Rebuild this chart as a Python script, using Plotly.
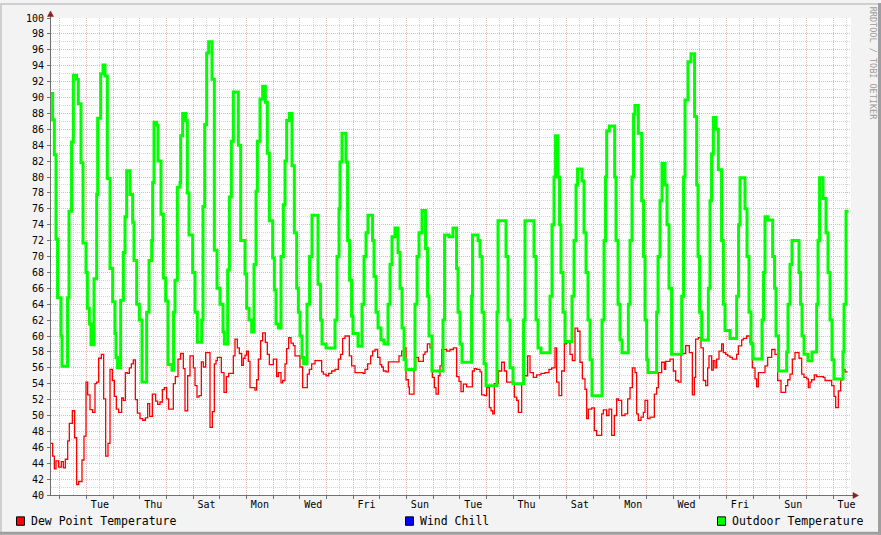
import plotly.graph_objects as go

# ---------------- data (hours since graph start = Sun 16:00, values in °F) ----------------
outdoor_t = [0, 1.5, 3.0, 4.5, 5.9, 9.0, 9.9, 14.9, 16.2, 18.5, 20.1, 23.0, 24.6, 27.0, 28.8, 31.5, 32.7,
             34.5, 36.0, 38.7, 41.1, 42.0, 44.7, 46.8, 48.6, 50.7, 53.1, 55.5, 57.6, 58.5, 59.9, 62.7,
             65.1, 66.6, 68.1, 71.1, 73.5, 74.7, 77.1, 79.5, 81.9, 86.1, 88.2, 90.6, 91.5, 92.7, 95.1,
             96.3, 99.0, 101.1, 103.2, 105.3, 108.9, 110.3, 111.6, 113.7, 116.1, 116.7, 118.5, 121.2,
             122.7, 124.2, 127.5, 129.6, 131.7, 135.6, 136.8, 138.3, 140.1, 141.9, 144.9, 147.0, 149.4,
             152.1, 154.8, 156.0, 159.0, 160.5, 162.3, 164.1, 168.6, 170.7, 174.6, 176.1, 178.2, 180.6,
             182.7, 184.5, 185.7, 188.1, 190.5, 192.9, 194.7, 196.5, 199.5, 201.0, 202.5, 204.6, 207.0,
             209.1, 210.6, 212.1, 214.5, 216.9, 219.0, 221.1, 222.6, 224.1, 225.9, 227.3, 230.4, 232.7,
             234.9, 240.3, 242.6, 243.9, 247.5, 255.6, 257.4, 259.2, 260.1, 261.9, 265.5, 266.9, 268.7,
             270.5, 271.8, 276.3, 279.9, 281.7, 283.5, 285.3, 289.4, 290.7, 292.5, 294.3, 297.0, 299.7,
             303.3, 305.1, 306.9, 309.6, 312.3, 314.1, 315.9, 317.7, 319.5, 327.6, 329.4, 331.2, 333.9,
             337.1, 338.9, 340.2, 342.9, 352.8, 354.2, 358.2, 361.8, 365.0, 366.3, 368.1, 369.9, 378.5,
             379.4, 384.3, 386.1, 387.9, 389.7, 391.5, 401.4, 402.3, 409.5, 411.3, 413.1, 415.8, 425.3,
             426.6, 434.7, 436.5, 438.3, 441.0, 449.1, 450.9, 452.7, 454.1, 456.3, 457.7, 459.0, 460.8,
             462.6, 468.9, 470.7, 472.5, 473.9, 477.9, 479.7, 481.5, 483.3, 485.1, 486.9, 495.9, 497.7,
             499.1, 500.1, 502.5, 507.3, 508.5, 510.3, 512.1, 513.9, 519.6, 521.1, 522.9, 524.3, 525.6,
             528.6, 531.6, 533.3, 534.6, 536.1, 537.3, 545.1, 546.3, 548.1, 549.9, 552.6, 554.4, 556.2,
             558.5, 567.6, 569.3, 570.6, 573.3, 576.0, 579.2, 581.1, 582.3, 583.7, 585.6, 591.6, 593.1,
             594.5, 596.1, 598.5, 600.6, 603.5, 605.1, 606.6, 611.1, 617.1, 618.8, 620.1, 624.6, 626.4,
             628.2, 630.0, 631.8, 639.9, 641.3, 642.6, 645.3, 649.5, 651.2, 652.5, 654.8, 662.1, 663.3,
             665.1, 666.9, 673.2, 674.6, 675.9, 677.7, 681.3, 684.9, 689.1, 690.3, 691.7, 694.8, 697.5,
             699.3, 701.1, 702.9, 704.7, 712.8, 713.7, 715.5, 717.8]
outdoor_v = [90.5, 87.2, 82.8, 72.2, 64.8, 60.0, 56.2, 64.8, 75.7, 84.4, 92.8, 92.3, 89.2, 81.8, 71.7, 68.0, 63.5,
             61.5, 58.9, 67.2, 77.8, 87.4, 93.0, 94.1, 92.7, 79.8, 68.5, 64.3, 60.3, 57.3, 56.0, 64.5,
             70.5, 75.0, 80.8, 77.8, 74.3, 69.5, 64.0, 62.0, 54.2, 63.0, 69.5, 72.0, 79.3, 86.9, 86.5,
             82.0, 75.3, 67.3, 64.4, 56.4, 55.7, 63.0, 67.0, 78.7, 79.3, 85.2, 88.0, 87.1,
             78.0, 72.7, 68.0, 63.0, 59.2, 62.0, 76.3, 86.6, 95.6, 97.0, 92.3, 70.8, 66.0,
             64.0, 60.5, 59.0, 68.3, 77.5, 84.5, 90.7, 84.0, 72.0, 67.8, 63.5, 62.0, 60.5,
             69.0, 78.2, 84.5, 89.8, 91.4, 89.4, 83.0, 74.5, 69.8, 65.8, 61.5, 61.0, 70.0,
             76.5, 82.0, 87.1, 88.0, 81.4, 73.0, 66.0, 63.0, 60.0, 57.3, 56.5, 64.0, 70.0,
             75.2, 66.5, 62.0, 59.0, 58.5, 62.0, 70.0, 76.0, 81.9, 85.5, 81.9, 72.0, 67.0,
             62.5, 60.3, 58.7, 64.0, 70.0, 73.0, 75.2, 72.0, 67.5, 63.0, 61.0, 59.5, 59.0,
             64.0, 69.0, 72.5, 73.6, 70.5, 66.0, 61.0, 57.0, 55.8, 64.0, 70.0, 73.0, 75.8,
             71.0, 65.0, 60.0, 55.6, 62.0, 72.7, 72.5, 73.6, 68.5, 63.0, 59.0, 56.7, 65.0,
             72.7, 72.0, 70.0, 63.0, 56.5, 53.75, 63.0, 74.5, 70.0, 62.0, 56.0, 54.0, 62.0,
             74.5, 70.0, 62.0, 58.5, 57.9, 65.0, 74.0, 80.0, 85.2, 80.0, 74.0, 68.0, 63.0,
             59.3, 65.0, 72.0, 79.0, 81.0, 79.5, 73.0, 68.0, 62.0, 57.0, 52.5, 62.0, 72.0,
             80.0, 85.8, 86.4, 80.0, 72.0, 64.0, 59.5, 57.9, 64.0, 72.0, 80.0, 87.9, 89.0,
             85.5, 77.0, 70.0, 62.0, 57.0, 55.4, 63.0, 70.0, 77.0, 81.7, 79.0, 74.0, 66.0,
             57.7, 65.0, 80.0, 89.7, 94.5, 95.5, 87.6, 79.0, 70.0, 63.0, 59.5, 66.0, 77.0,
             82.9, 87.5, 86.0, 80.9, 72.0, 64.0, 60.7, 59.7, 65.0, 74.0, 79.9, 76.0, 70.0,
             63.0, 59.0, 57.1, 62.0, 68.0, 75.0, 74.6, 70.0, 66.0, 60.0, 55.6, 58.0, 64.0,
             69.0, 72.0, 68.0, 64.0, 60.0, 57.7, 56.9, 58.0, 64.0, 72.0, 79.9, 77.3, 73.0,
             68.0, 62.0, 57.0, 54.6, 58.0, 64.0, 75.7, 75.7]

dew_t = [0, 1.5, 3.0, 4.5, 6.9, 9.3, 11.1, 12.9, 15.0, 16.5, 19.2, 21.3, 23.1, 24.9, 27.9, 29.7, 31.5, 33.0,
         35.1, 37.5, 39.6, 41.1, 42.9, 45.3, 47.4, 49.2, 51.3, 53.1, 55.2, 57.0, 58.8, 60.9, 63.6, 65.1,
         66.9, 68.7, 70.5, 72.3, 74.1, 75.9, 77.7, 80.1, 82.5, 84.9, 87.0, 88.8, 91.2, 94.2, 96.0, 98.1,
         100.2, 102.0, 104.1, 105.9, 110.1, 111.9, 114.3, 116.7, 119.1, 120.6, 123.0, 125.1, 128.1,
         129.6, 131.4, 133.2, 135.3, 137.1, 139.2, 143.1, 145.2, 147.0, 148.5, 149.7, 153.3, 155.7,
         157.8, 159.9, 164.1, 165.6, 167.7, 169.5, 171.6, 173.1, 174.6, 176.1, 177.6, 179.1, 183.6,
         185.1, 186.6, 188.7, 190.5, 192.9, 194.7, 196.5, 200.1, 203.1, 204.6, 207.0, 208.5, 210.6,
         212.1, 213.9, 216.0, 218.1, 219.6, 224.1, 226.5, 230.7, 232.5, 234.6, 237.6, 243.6, 245.1,
         247.5, 249.9, 252.6, 255.6, 258.6, 260.7, 262.5, 264.6, 268.5, 270.6, 273.6, 280.8, 282.6,
         285.0, 287.7, 289.5, 291.6, 294.0, 296.1, 297.6, 299.1, 301.5, 303.6, 313.2, 315.6, 318.0,
         319.5, 321.6, 322.5, 326.7, 328.2, 330.6, 335.1, 336.6, 338.7, 341.1, 343.2, 345.0, 346.5,
         348.6, 350.1, 351.6, 356.1, 359.1, 362.1, 365.1, 367.2, 369.0, 371.1, 374.1, 379.2, 381.0,
         383.1, 386.1, 387.6, 390.0, 392.1, 394.5, 396.0, 397.5, 399.0, 402.6, 405.6, 408.0, 410.1,
         417.0, 419.1, 420.6, 423.6, 425.1, 429.0, 431.1, 434.1, 437.1, 441.0, 444.6, 448.2, 450.6,
         453.6, 455.1, 457.2, 459.6, 462.0, 464.1, 467.1, 469.2, 471.6, 474.0, 476.1, 478.2, 480.6,
         482.1, 483.6, 486.6, 489.0, 491.1, 495.6, 497.1, 500.1, 502.2, 504.6, 507.0, 509.1, 510.6,
         513.6, 516.6, 519.0, 521.1, 523.2, 525.6, 527.1, 528.6, 531.0, 533.1, 534.6, 537.0, 539.1,
         543.0, 545.1, 546.6, 549.6, 552.0, 553.2, 557.1, 560.1, 562.2, 564.6, 567.0, 571.2, 574.5,
         577.2, 579.0, 580.2, 582.6, 585.0, 587.1, 589.2, 591.0, 592.2, 594.6, 596.1, 597.6, 599.1,
         601.2, 603.6, 605.1, 607.2, 609.0, 611.1, 613.2, 617.1, 618.6, 621.6, 623.1, 626.1, 629.1,
         631.2, 633.6, 635.1, 636.6, 642.6, 645.0, 648.6, 651.6, 654.0, 657.0, 661.2, 663.0, 665.1,
         667.2, 669.6, 673.2, 675.6, 677.7, 680.1, 681.6, 683.1, 684.6, 687.0, 689.1, 695.1, 696.6,
         702.6, 704.7, 706.2, 708.6, 710.7, 712.5, 714.6, 717.0]
dew_v = [46.5, 44.9, 43.3, 44.3, 43.5, 44.2, 43.4, 44.5, 46.8, 49.0, 50.6, 47.2, 41.3, 41.7, 44.4, 47.4, 54.2, 52.6,
         50.75, 50.4, 54.0, 54.2, 57.2, 57.7, 52.1, 44.9, 46.5, 55.8, 54.4, 52.4, 50.8, 50.4, 52.2, 51.9,
         55.4, 55.3, 56.0, 56.5, 57.0, 52.0, 50.3, 49.6, 49.4, 49.7, 51.5, 49.9, 52.7, 51.8, 51.4, 51.7,
         53.25, 53.5, 52.1, 50.8, 54.0, 54.9, 57.1, 57.8, 55.9, 50.6, 55.0, 57.5, 56.0,
         53.75, 52.3, 52.5, 56.75, 56.1, 57.9, 48.5, 50.5, 56.5, 56.9, 57.3, 55.4, 52.9,
         54.9, 55.3, 57.5, 59.6, 58.5, 57.8, 56.3, 57.2, 57.6, 58.1, 56.8, 53.5, 53.2,
         54.5, 57.1, 59.4, 60.4, 59.2, 57.7, 56.4, 57.1, 54.9, 55.4, 54.1, 54.4, 56.5,
         58.4, 59.8, 59.1, 58.8, 57.5, 56.1, 53.5, 55.2, 55.8, 56.5, 56.9, 55.5, 55.2,
         55.0, 55.3, 55.6, 55.8, 57.1, 57.7, 59.7, 60.0, 57.5, 56.25, 55.4, 55.3, 55.8,
         56.5, 57.5, 58.1, 58.3, 57.3, 56.4, 56.1, 55.6, 55.5, 56.75, 57.5, 58.1, 58.5,
         54.5, 53.6, 52.7, 55.8, 57.3, 56.8, 57.7, 58.0, 59.0, 58.5, 54.8, 53.5, 52.7,
         55.0, 56.25, 58.3, 58.1, 58.3, 58.5, 54.9, 54.3, 53.0, 53.95, 53.6, 55.6, 55.9,
         55.8, 55.5, 52.6, 52.5, 53.5, 51.0, 50.6, 50.2, 54.0, 55.6, 56.7, 55.6, 54.2,
         52.3, 51.9, 50.4, 53.95, 55.0, 57.5, 55.4, 54.8, 55.1, 55.3, 55.4, 55.8, 56.0,
         58.5, 54.2, 52.5, 55.6, 59.0, 59.2, 57.7, 56.9, 61.0, 60.6, 56.7, 54.6, 53.3,
         49.6, 50.8, 50.96, 48.1, 47.5, 50.2, 50.7, 50.0, 50.8, 47.5, 50.0, 52.1, 51.9,
         50.0, 50.2, 52.1, 53.5, 56.0, 55.4, 50.2, 49.4, 49.8, 50.4, 51.9, 49.6, 49.8,
         52.7, 53.5, 55.4, 56.7, 55.8, 56.8, 57.1, 55.6, 54.4, 54.2, 57.8, 58.8, 57.9,
         52.6, 54.8, 59.6, 59.8, 58.5, 54.4, 53.75, 56.0, 57.5, 55.7, 56.9, 56.0, 57.1,
         58.1, 59.0, 57.9, 57.7, 57.5, 57.3, 57.1, 57.7, 58.75, 59.5, 59.7, 60.0, 59.2,
         56.0, 54.6, 53.6, 55.4, 56.25, 57.3, 58.3, 57.7, 54.4, 52.9, 53.75, 54.5, 55.2,
         57.1, 57.9, 57.2, 55.2, 54.8, 54.6, 53.5, 54.2, 54.5, 55.1, 54.9, 54.8, 54.4,
         53.75, 52.4, 51.0, 53.1, 54.5, 55.8, 55.5, 55.5]

y_tick_values = list(range(40, 101, 2))
label_days = ["Tue", "Thu", "Sat", "Mon", "Wed", "Fri", "Sun",
              "Tue", "Thu", "Sat", "Mon", "Wed", "Fri", "Sun", "Tue"]
series_names = ["Dew Point Temperature", "Wind Chill", "Outdoor Temperature"]
series_colors = ["#FF0000", "#0000FF", "#00FF00"]

# ---------------- geometry ----------------
W, H = 881, 535
L, R, T, B = 51, 851, 15, 495          # plot area in pixels
SPAN_H = 720.0                          # hours shown
FIRST_MIDNIGHT = 8.0                    # Mon 00:00 in hours since start


def xp(px):
    return (px - L) / (R - L)


def yp(py):
    return (B - py) / (B - T)


noon_vals = [FIRST_MIDNIGHT + 12 + 24 * k for k in range(30)]
midnight_vals = [FIRST_MIDNIGHT + 24 * k for k in range(30)]
label_hours = [FIRST_MIDNIGHT + 36 + 48 * k for k in range(len(label_days))]
noon_text = []
for v in noon_vals:
    if v in label_hours:
        noon_text.append(label_days[label_hours.index(v)])
    else:
        noon_text.append("")

MONO = "DejaVu Sans Mono"
MAJ_GRID = "#EDB4B4"
MIN_GRID = "#D4D4D4"
AXIS = "#707070"

fig = go.Figure()
fig.add_trace(go.Scatter(x=dew_t, y=dew_v, mode="lines", line=dict(color=series_colors[0], width=1.3, shape="hv"),
                         name=series_names[0], showlegend=False, hoverinfo="skip"))
fig.add_trace(go.Scatter(x=outdoor_t, y=outdoor_v, mode="lines", line=dict(color=series_colors[2], width=3, shape="hv"),
                         name=series_names[2], showlegend=False, hoverinfo="skip"))

fig.update_layout(
    width=W, height=H,
    margin=dict(l=L, r=W - R, t=T, b=H - B, pad=0),
    paper_bgcolor="#F3F3F3",
    plot_bgcolor="#FFFFFF",
    showlegend=False,
    font=dict(family=MONO, size=10, color="#000000"),
    xaxis=dict(
        range=[0, SPAN_H], showline=True, linecolor=AXIS, linewidth=1, zeroline=False,
        tickmode="array", tickvals=noon_vals, ticktext=noon_text, ticks="",
        showgrid=True, gridcolor=MIN_GRID, griddash="1px,1px", gridwidth=1,
        tickfont=dict(family=MONO, size=10, color="#000"), ticklabelstandoff=0,
        minor=dict(tickmode="array", tickvals=midnight_vals, ticks="outside", ticklen=3,
                   tickcolor=AXIS, showgrid=True, gridcolor=MAJ_GRID, griddash="1px,1px", gridwidth=1),
        fixedrange=True,
    ),
    yaxis=dict(
        range=[40, 100], showline=True, linecolor=AXIS, linewidth=1, zeroline=False,
        tickmode="array", tickvals=y_tick_values, ticktext=[str(v) for v in y_tick_values],
        ticks="outside", ticklen=3, tickcolor=AXIS,
        showgrid=True, gridcolor=MAJ_GRID, griddash="1px,1px", gridwidth=1,
        tickfont=dict(family=MONO, size=10, color="#000"), ticklabelstandoff=1,
        minor=dict(dtick=1, tick0=40, showgrid=True, gridcolor=MIN_GRID, griddash="1px,1px", gridwidth=1),
        fixedrange=True,
    ),
)

shapes = []
# frame shading
shapes.append(dict(type="rect", xref="paper", yref="paper", x0=xp(0), x1=xp(W), y0=yp(0), y1=yp(2),
                   fillcolor="#CFCFCF", line=dict(width=0), layer="above"))
shapes.append(dict(type="rect", xref="paper", yref="paper", x0=xp(0), x1=xp(2), y0=yp(0), y1=yp(H),
                   fillcolor="#CFCFCF", line=dict(width=0), layer="above"))
shapes.append(dict(type="rect", xref="paper", yref="paper", x0=xp(0), x1=xp(W), y0=yp(H - 3), y1=yp(H),
                   fillcolor="#9E9E9E", line=dict(width=0), layer="above"))
shapes.append(dict(type="rect", xref="paper", yref="paper", x0=xp(W - 3), x1=xp(W), y0=yp(0), y1=yp(H),
                   fillcolor="#9E9E9E", line=dict(width=0), layer="above"))
# axis arrows
ARROW = "#8B1E1E"
shapes.append(dict(type="line", xref="paper", yref="paper", x0=xp(50.5), x1=xp(50.5), y0=yp(T), y1=yp(11),
                   line=dict(color=AXIS, width=1)))
shapes.append(dict(type="path", xref="paper", yref="paper",
                   path=f"M {xp(50.5)},{yp(8)} L {xp(47.5)},{yp(13.5)} L {xp(53.5)},{yp(13.5)} Z",
                   fillcolor=ARROW, line=dict(color=ARROW, width=0.5)))
shapes.append(dict(type="line", xref="paper", yref="paper", x0=xp(R), x1=xp(854), y0=yp(B + 0.5), y1=yp(B + 0.5),
                   line=dict(color=AXIS, width=1)))
shapes.append(dict(type="path", xref="paper", yref="paper",
                   path=f"M {xp(858.5)},{yp(B + 0.5)} L {xp(853)},{yp(B - 2.5)} L {xp(853)},{yp(B + 3.5)} Z",
                   fillcolor=ARROW, line=dict(color=ARROW, width=0.5)))

annotations = []
# legend (manual, to match rrdtool placement)
legend_x = [16.5, 405.5, 717.5]
for name, col, lx in zip(series_names, series_colors, legend_x):
    shapes.append(dict(type="rect", xref="paper", yref="paper", x0=xp(lx), x1=xp(lx + 8),
                       y0=yp(517), y1=yp(525.5), fillcolor=col, line=dict(color="#000000", width=1)))
    annotations.append(dict(xref="paper", yref="paper", x=xp(lx + 13), y=yp(521.5), xanchor="left",
                            yanchor="middle", text=name, showarrow=False,
                            font=dict(family=MONO, size=11.5, color="#000000"), borderpad=0))
# watermark
annotations.append(dict(xref="paper", yref="paper", x=xp(873), y=yp(60), textangle=90,
                        text="RRDTOOL / TOBI OETIKER", showarrow=False, xanchor="center", yanchor="middle",
                        font=dict(family=MONO, size=8.5, color="#9C9C9C")))

fig.update_layout(shapes=shapes, annotations=annotations)
fig.write_html("out.html")
